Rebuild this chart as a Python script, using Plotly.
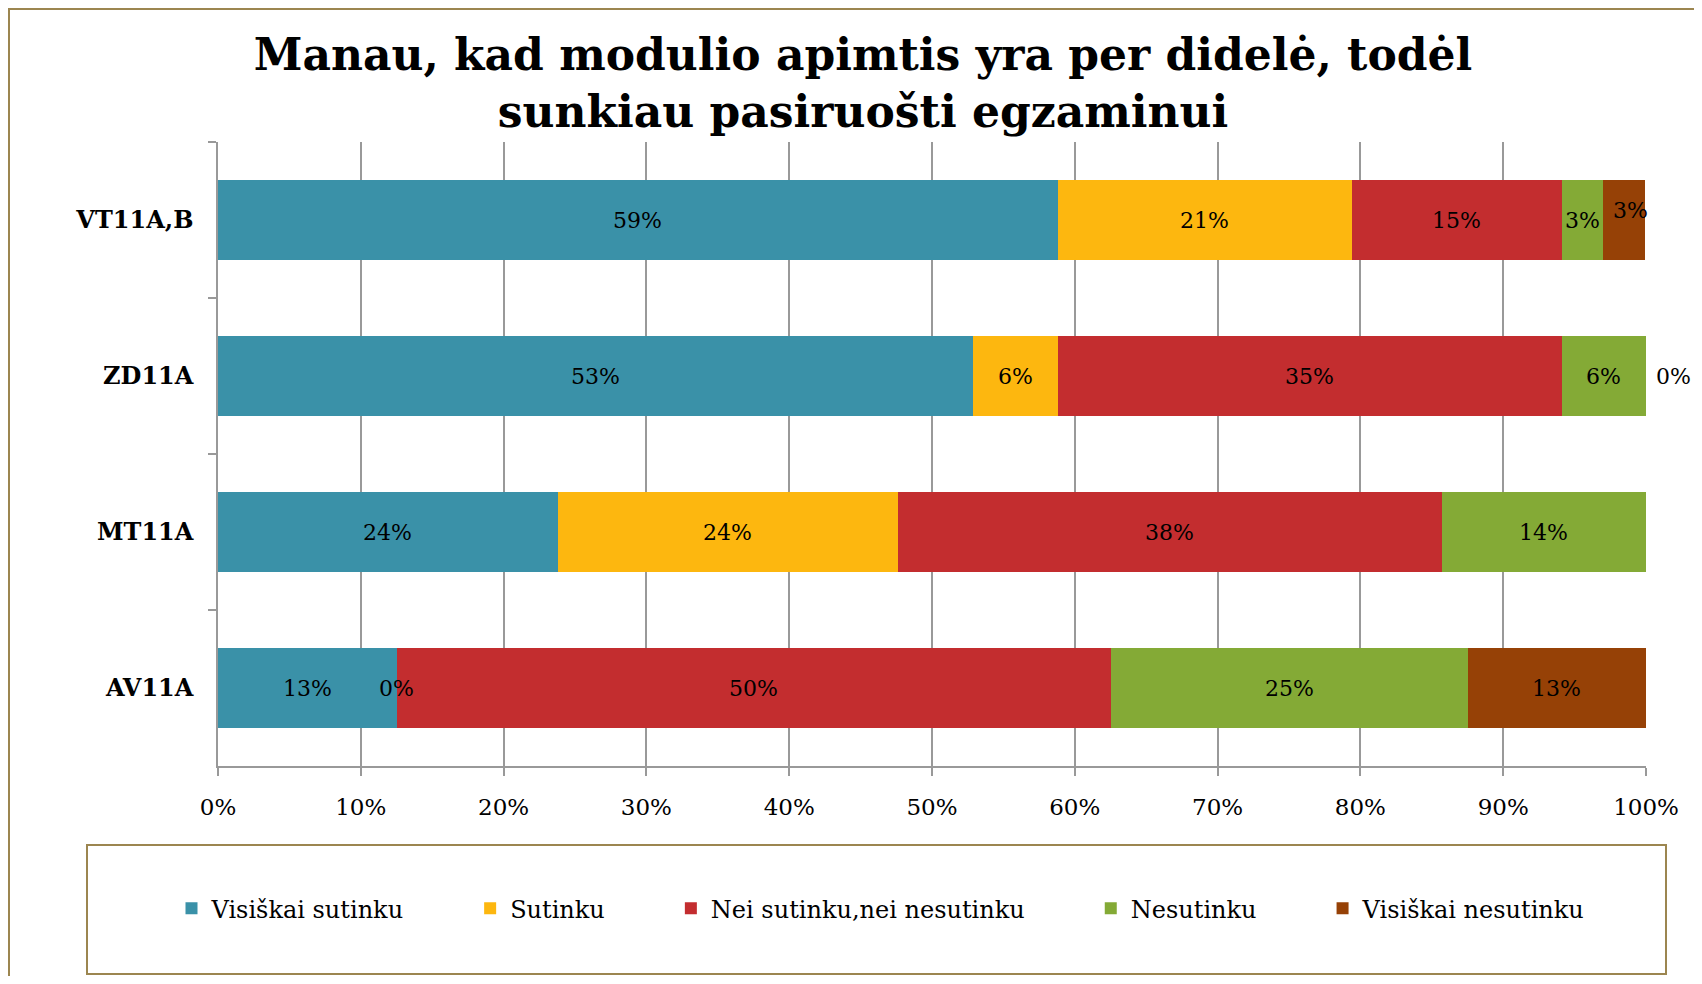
import plotly.graph_objects as go

categories = ["VT11A,B", "ZD11A", "MT11A", "AV11A"]
series_names = ["Visiškai sutinku", "Sutinku", "Nei sutinku,nei nesutinku", "Nesutinku", "Visiškai nesutinku"]
visiskai_sutinku = [58.8, 52.9, 23.8, 12.5]
sutinku = [20.6, 5.9, 23.8, 0.0]
nei_nei = [14.7, 35.3, 38.1, 50.0]
nesutinku = [2.9, 5.9, 14.3, 25.0]
visiskai_nesutinku = [2.9, 0.0, None, 12.5]
colors = ["#3A91A8", "#FDB70F", "#C32D2F", "#84AA36", "#964106"]
x_ticks = [0, 10, 20, 30, 40, 50, 60, 70, 80, 90, 100]
x_tick_labels = [f"{v}%" for v in x_ticks]
title_text = "Manau, kad modulio apimtis yra per didelė, todėl<br>sunkiau pasiruošti egzaminui"

series_values = [visiskai_sutinku, sutinku, nei_nei, nesutinku, visiskai_nesutinku]

FONT = "DejaVu Serif"
# page body has an 8px margin; figure coordinates are offset by 8px
W, H = 1686, 968
L, R, T, B = 210, 48, 134, 210
PW, PH = W - L - R, H - T - B

fig = go.Figure()
n = len(series_names)
for i, (name, vals, col) in enumerate(zip(series_names, series_values, colors)):
    pad = "\u00a0" * 8 if i < n - 1 else ""
    fig.add_trace(go.Bar(
        name=name + pad,
        y=categories,
        x=[v if v is not None else 0 for v in vals],
        orientation="h",
        marker=dict(color=col, line=dict(width=0)),
        hoverinfo="x+y+name",
    ))

# data labels as annotations at segment centres
annotations = []
for ci, cat in enumerate(categories):
    cum = 0.0
    for si, vals in enumerate(series_values):
        v = vals[ci]
        if v is None:
            continue
        center = cum + v / 2.0
        xshift = 0
        yshift = 0
        if v == 0 and cum >= 99.9:
            xshift = 27
        if si == 4 and 0 < v < 5:
            xshift = 7
            yshift = 10
        annotations.append(dict(
            x=center, y=cat, xref="x", yref="y",
            text=f"{int(v + 0.5):d}%", showarrow=False,
            xshift=xshift, yshift=yshift,
            font=dict(family=FONT, size=22, color="black"),
        ))
        cum += v

fig.update_layout(
    width=W, height=H,
    margin=dict(l=L, r=R, t=T, b=B, autoexpand=False),
    paper_bgcolor="white", plot_bgcolor="white",
    barmode="stack", bargap=0.485,
    title=dict(text=title_text, x=855 / W, xanchor="center", xref="container",
               y=1 - 61.5 / H, yanchor="middle",
               font=dict(family=FONT, size=44, color="black", weight="bold")),
    showlegend=True,
    legend=dict(orientation="h", xref="paper", x=(873 - L) / PW, xanchor="center",
                y=(H - B - 900.6) / PH, yanchor="middle",
                font=dict(family=FONT, size=24, color="black"),
                traceorder="normal", itemclick=False, itemdoubleclick=False),
    annotations=annotations,
    font=dict(family=FONT, color="black"),
)

fig.update_xaxes(
    range=[0, 100], tickvals=x_ticks, ticktext=x_tick_labels, tickangle=0,
    showgrid=True, gridcolor="#999999", gridwidth=1.5,
    showline=True, linecolor="#999999", linewidth=1.5,
    ticks="outside", ticklen=8, tickcolor="#999999", tickwidth=1.5,
    ticklabelstandoff=12,
    tickfont=dict(family=FONT, size=23, color="black"),
    zeroline=False, fixedrange=True,
)
fig.update_yaxes(
    categoryorder="array", categoryarray=categories, autorange="reversed",
    showline=True, linecolor="#999999", linewidth=1.5,
    ticks="outside", ticklen=8, tickcolor="#999999", tickwidth=1.5,
    tickson="boundaries", ticklabelstandoff=18,
    tickfont=dict(family=FONT, size=24, color="black", weight="bold"),
    showgrid=False, zeroline=False, fixedrange=True,
)

# outer chart border and legend box
fig.add_shape(type="rect", xref="paper", yref="paper",
              x0=(1 - L) / PW, x1=(W + 40 - L) / PW,
              y0=(H - B - 1) / PH, y1=(H - B - H - 40) / PH,
              line=dict(color="#9C8650", width=2), fillcolor="rgba(0,0,0,0)", layer="below")
fig.add_shape(type="rect", xref="paper", yref="paper",
              x0=(79 - L) / PW, x1=(1658 - L) / PW,
              y0=(H - B - 837) / PH, y1=(H - B - 966) / PH,
              line=dict(color="#9C8650", width=2), fillcolor="rgba(0,0,0,0)", layer="below")

fig.write_html("out.html")
